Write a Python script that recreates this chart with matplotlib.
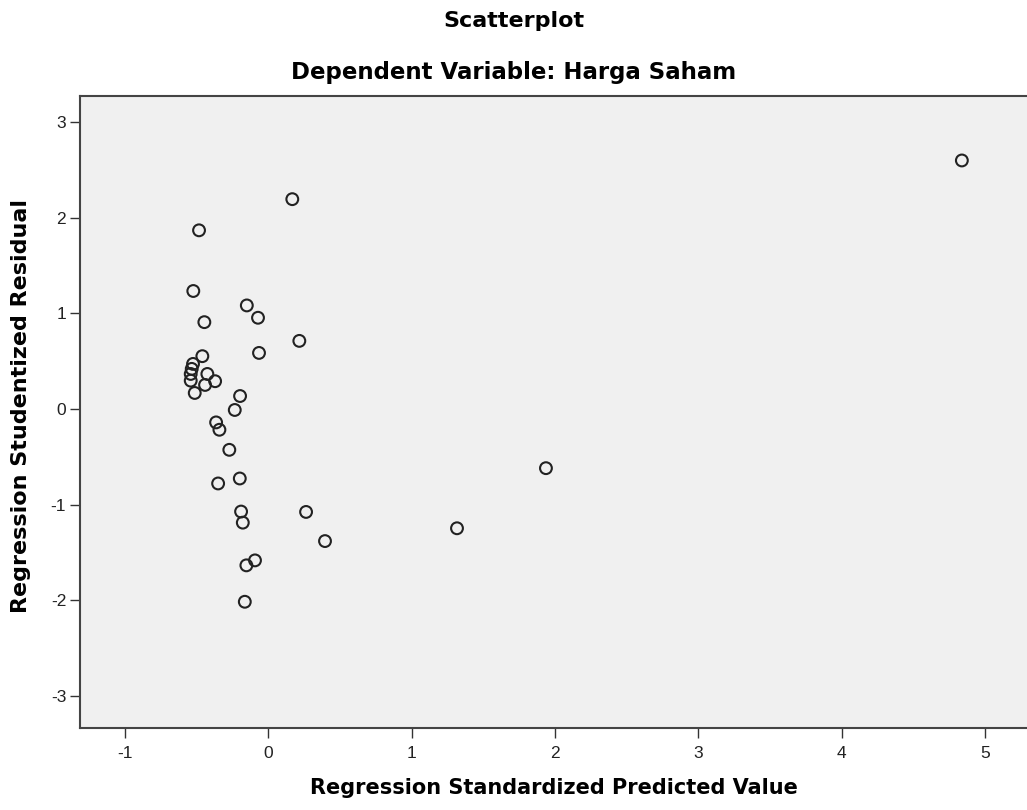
import matplotlib
matplotlib.use("Agg")
import matplotlib.pyplot as plt

plt.rcParams['font.family'] = ['Liberation Sans', 'DejaVu Sans']
plt.rcParams['axes.unicode_minus'] = False

# standardized predicted value vs studentized residual
pred = [4.836, 0.169, -0.481, -0.521, -0.148, -0.070, -0.444, 0.218, -0.063, -0.458,
        -0.523, -0.532, -0.539, -0.539, -0.423, -0.369, -0.439, -0.511, -0.195, -0.232,
        -0.362, -0.339, -0.270, -0.197, -0.348, -0.188, -0.176, 0.265, 0.397, 1.317,
        1.937, -0.091, -0.151, -0.162]
resid = [2.601, 2.196, 1.870, 1.235, 1.084, 0.955, 0.909, 0.713, 0.587, 0.553,
         0.472, 0.420, 0.367, 0.297, 0.367, 0.291, 0.252, 0.168, 0.136, -0.010,
         -0.140, -0.217, -0.427, -0.727, -0.779, -1.073, -1.189, -1.077, -1.382, -1.248,
         -0.619, -1.584, -1.636, -2.017]

xticks = [-1, 0, 1, 2, 3, 4, 5]
yticks = [-3, -2, -1, 0, 1, 2, 3]

# the SPSS export looks stretched sideways, DejaVu Bold comes closer in width
bold = ['DejaVu Sans']


def main():
    fig = plt.figure(figsize=(10.27, 8.10), dpi=100)
    ax = fig.add_axes([0.078, 0.101, 0.922, 0.781])
    ax.set_facecolor('#f0f0f0')

    ax.scatter(pred, resid, s=72, facecolors='none', edgecolors='#222222', linewidths=1.5, zorder=3)

    ax.set_xlim(-1.31, 5.29)
    ax.set_ylim(-3.34, 3.28)
    ax.set_xticks(xticks)
    ax.set_yticks(yticks)
    ax.tick_params(direction='out', length=7, width=1, colors='#333333', labelsize=12.5,
                   labelcolor='#222222')
    ax.tick_params(axis='x', pad=6)
    ax.tick_params(axis='y', pad=3)

    for side in ['left', 'bottom', 'top']:
        ax.spines[side].set_color('#444444')
        ax.spines[side].set_linewidth(1.5)
    ax.spines['right'].set_visible(False)

    ax.set_xlabel('Regression Standardized Predicted Value', family=bold, fontsize=15,
                  fontweight='bold', labelpad=12)
    ax.set_ylabel('Regression Studentized Residual', family=bold, fontsize=16,
                  fontweight='bold')
    ax.yaxis.set_label_coords(-0.052, 0.51)

    fig.text(0.5, 0.974, 'Scatterplot', family=bold, ha='center', va='center',
             fontsize=16, fontweight='bold')
    fig.text(0.5, 0.911, 'Dependent Variable: Harga Saham', family=bold, ha='center',
             va='center', fontsize=16.5, fontweight='bold')

    fig.savefig('out.png', dpi=100)


if __name__ == '__main__':
    main()
